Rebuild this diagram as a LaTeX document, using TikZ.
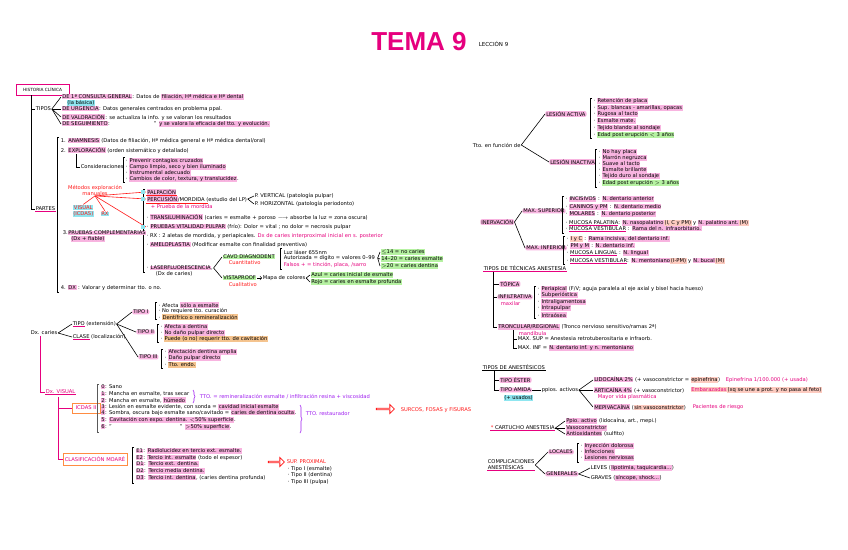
\documentclass[tikz,border=0pt]{standalone}
\usepackage{fontspec}
\setmainfont{DejaVu Sans}
\newfontfamily\titfont{Liberation Sans}
\usepackage{amsmath,amssymb}
\usetikzlibrary{shapes.arrows,decorations.pathreplacing}

\definecolor{mag}{HTML}{E6007E}
\definecolor{hpink}{HTML}{F8B4E0}
\definecolor{hgreen}{HTML}{B6F2A2}
\definecolor{hcyan}{HTML}{8FE6F0}
\definecolor{horange}{HTML}{F5C48F}
\definecolor{hpeach}{HTML}{FDCBC0}
\definecolor{orbox}{HTML}{FF8C42}
\definecolor{purp}{HTML}{A020F0}
\definecolor{rojo}{HTML}{FF1A1A}

\newcommand\mkpink[1]{{\setlength{\fboxsep}{0.5pt}\colorbox{hpink}{#1}}}
\newcommand\mkgreen[1]{{\setlength{\fboxsep}{0.5pt}\colorbox{hgreen}{#1}}}
\newcommand\mkcyan[1]{{\setlength{\fboxsep}{0.5pt}\colorbox{hcyan}{#1}}}
\newcommand\mkorange[1]{{\setlength{\fboxsep}{0.5pt}\colorbox{horange}{#1}}}
\newcommand\mkpeach[1]{{\setlength{\fboxsep}{0.5pt}\colorbox{hpeach}{#1}}}
\newcommand\mkul[1]{\textcolor{mag}{\underline{\textcolor{black}{#1}}}}
\newcommand\bkt[3]{\draw (#1+2,#2) -- (#1,#2) -- (#1,#3) -- (#1+2,#3);}

\begin{document}
\begin{tikzpicture}[x=1pt, y=-1pt, line width=0.6pt,
  every node/.style={font=\fontsize{5.2}{6}\selectfont},
  tx/.style={anchor=west, inner sep=0.5pt},
  hpk/.style={tx, fill=hpink, rounded corners=2pt, inner xsep=1pt},
  hgr/.style={tx, fill=hgreen, rounded corners=2pt, inner xsep=1pt},
  ul/.style={append after command={(\tikzlastnode.south west) edge[draw=#1, line width=0.6pt] (\tikzlastnode.south east)}}, ul/.default=mag,
  bx/.style={draw=orbox, line width=1pt, text=mag, inner sep=1.5pt, fill=white},
  harrow/.style={single arrow, draw=rojo, line width=0.8pt, minimum height=18, minimum width=9, single arrow head extend=2, inner sep=0pt}]
\fill[white] (0,0) rectangle (848,549);
\useasboundingbox (0,0) rectangle (848,549);

\node[text=mag, font=\titfont\bfseries\fontsize{26}{28}\selectfont] (tema) at (419,42) {TEMA 9};
\node[tx, font=\fontsize{5.5}{7}\selectfont] (lecc) at (478,44) {LECCIÓN 9};

% historia clinica
\node[bx, draw=mag, text=black, minimum width=53, minimum height=11, font=\fontsize{4.3}{5}\selectfont] (hist) at (42.5,89.5) {HISTORIA CLÍNICA};
\coordinate (tk) at (31,95);
\node[tx] (tipos) at (35,109) {TIPOS};
\node[tx] (t1) at (61,97) {\mkpink{DE 1ª CONSULTA GENERAL}: Datos de \mkpink{filiación, Hª médica e Hª dental}};
\node[tx] (t1b) at (66,103) {\mkcyan{(la básica)}};
\node[tx] (t2) at (61,109) {\mkpink{DE URGENCIA}: Datos generales centrados en problema ppal.};
\node[tx] (t3) at (61,117) {\mkpink{DE VALORACIÓN}: se actualiza la info. y se valoran los resultados};
\node[tx] (t4) at (61,124) {\mkpink{DE SEGUIMIENTO}:\hspace{44pt}'' \mkpink{y se valora la eficacia del tto. y evolución.}};
\node[tx, ul] (partes) at (35,209) {PARTES};
\draw (tk) |- (partes.west);
\draw (tk |- tipos.west) -- (tipos.west);
\foreach \b in {t1,t2,t3,t4} {\draw (tipos.east) -- (\b.west);}

\bkt{57}{137}{292}
\node[tx] (an) at (60,141) {1. \mkpink{ANAMNESIS} (Datos de filiación, Hª médica general e Hª médica dental/oral)};
\node[tx] (ex) at (60,150) {2. \mkpink{EXPLORACIÓN} (orden sistemático y detallado)};
\node[tx] (cons) at (80,167) {Consideraciones};
\draw (ex.south west) ++(16,0) |- (cons.west);
\bkt{123}{157}{182}
\node[tx] (c1) at (125,161) {· \mkpink{Prevenir contagios cruzados}};
\node[tx] (c2) at (125,167) {· \mkpink{Campo limpio, seco y bien iluminado}};
\node[tx] (c3) at (125,173) {· \mkpink{Instrumental adecuado}};
\node[tx] (c4) at (125,179) {· \mkpink{Cambios de color, textura, y translucidez}.};
\node[text=rojo, align=center, inner sep=0.5pt] (met) at (95,190) {Métodos exploración\\manuales};
\node[tx, text=rojo, align=center] (vis) at (72,211) {\mkcyan{VISUAL}\\\mkcyan{(ICDAS)}};
\node[tx, text=rojo] (rxs) at (100,214) {\mkcyan{RX}};

\bkt{143}{189}{272}
\node[tx, ul=rojo] (pal) at (146,192) {\mkpink{PALPACIÓN}};
\node[tx] (perc) at (146,199) {\mkpink{PERCUSIÓN}/MORDIDA (estudio del LP)};
\draw[rojo] (perc.south west) -- ++(62,0);
\node[tx] (pv) at (254,196) {P. VERTICAL (patología pulpar)};
\node[tx] (ph) at (254,204) {P. HORIZONTAL (patología periodonto)};
\node[tx, text=mag] (mord) at (150,207) {+ Prueba de la mordida};
\node[tx] (trans) at (146,217) {· \mkpink{TRANSILUMINACIÓN} (caries = esmalte + poroso $\longrightarrow$ absorbe la luz = zona oscura)};
\node[tx] (vit) at (146,227) {· \mkpink{PRUEBAS VITALIDAD PULPAR} (frío): Dolor = vital ; no dolor = necrosis pulpar};
\node[tx] (rx) at (146,236) {· RX : 2 aletas de mordida, y periapicales. \textcolor{mag}{Dx de caries interproximal inicial en s. posterior}};
\node[tx] (amel) at (146,245) {· \mkpink{AMELOPLASTIA} (Modificar esmalte con finalidad preventiva)};
\node[tx] (laser) at (146,268) {· \mkpink{LASERFLUORESCENCIA},};
\node[tx] (laser2) at (155,274) {(Dx de caries)};
\foreach \b in {pal,perc,vit} {\draw[rojo] (met.south) -- (\b.west);}
\foreach \b in {vis,rxs} {\draw[rojo] (met.south) -- (\b.north);}
\foreach \b in {pv,ph} {\draw (perc.east) -- (\b.west);}
\foreach \y in {192,199,227} {\fill[hcyan] (141,\y-2) rectangle (145,\y+2);}

\node[tx] (pc) at (62,233) {3.\mkpink{PRUEBAS COMPLEMENTARIAS}};
\node[tx] (pc2) at (70,239) {\mkpink{(Dx + fiable)}};
\node[tx] (dx) at (60,288) {4. \mkpink{DX} : Valorar y determinar tto. o no.};

\node[tx] (cavo) at (222,257) {\mkgreen{CAVO DIAGNODENT}};
\node[tx, text=rojo] (cuanti) at (228,263) {Cuantitativo};
\node[tx] (vista) at (222,278) {\mkgreen{VISTAPROOF}};
\node[tx] (mapa) at (262,278) {Mapa de colores};
\node[tx, text=rojo] (cuali) at (228,285) {Cualitativo};
\foreach \b in {cavo,vista} {\draw (laser.east) -- (\b.west);}
\draw[->] (vista.east) -- (mapa.west);
\bkt{280}{248}{269}
\node[tx] (dg1) at (283,252) {Luz láser 655nm};
\node[tx] (dg2) at (283,258) {Autorizada = dígito = valores 0--99};
\node[tx, text=mag] (dg3) at (283,265) {Falsos + = tinción, placa, /sarro};
\node[tx] (g1) at (380,252) {\mkgreen{$\leq$14 = no caries}};
\node[tx] (g2) at (380,259) {\mkgreen{14--20 = caries esmalte}};
\node[tx] (g3) at (380,266) {\mkgreen{$>$20 = caries dentina}};
\foreach \b in {g1,g2,g3} {\draw (dg2.east) ++(2,0) -- (\b.west);}
\node[tx] (az) at (310,275) {\mkgreen{Azul = caries inicial de esmalte}};
\node[tx] (ro) at (310,282) {\mkgreen{Rojo = caries en esmalte profunda}};
\foreach \b in {az,ro} {\draw (mapa.east) -- (\b.west);}

% dx caries
\node[tx] (dxc) at (30,333) {Dx. caries};
\node[tx] (tipo) at (72,324) {\mkul{TIPO} (extensión)};
\node[tx] (clase) at (72,337) {\mkul{CLASE} (localización)};
\foreach \b in {tipo,clase} {\draw (dxc.east) -- (\b.west);}
\node[hpk] (ti1) at (132,312) {TIPO I};
\node[hpk] (ti2) at (136,332) {TIPO II};
\node[hpk] (ti3) at (138,357) {TIPO III};
\foreach \b in {ti1,ti2,ti3} {\draw (tipo.east) -- (\b.west);}
\bkt{155}{302}{319}
\node[tx] (a1) at (158,305) {· Afecta \mkpink{sólo a esmalte}};
\node[tx] (a2) at (158,311) {· No requiere tto. curación};
\node[tx] (a3) at (158,317) {· \mkorange{Dentífrico o remineralización}};
\bkt{157}{324}{342}
\node[tx] (b1) at (160,327) {· \mkpink{Afecta a dentina}};
\node[tx] (b2) at (160,333) {· \mkpink{No daño pulpar directo}};
\node[tx] (b3) at (160,339) {· \mkorange{Puede (o no) requerir tto. de cavitación}};
\bkt{161}{349}{368}
\node[tx] (d1) at (164,352) {· \mkpink{Afectación dentina amplia}};
\node[tx] (d2) at (164,358) {· \mkpink{Daño pulpar directo}};
\node[tx] (d3) at (164,365) {· \mkorange{Tto. endo.}};

\node[tx, text=mag, ul] (dvis) at (45,392) {Dx. VISUAL};
\draw[mag] (dxc.south west) ++(10,0) |- (dvis.west);
\node[bx, minimum width=28, minimum height=10] (icdas) at (86,408) {ICDAS II};
\node[bx, minimum width=64, minimum height=12] (cls) at (95,459) {CLASIFICACIÓN MOARÉ};
\coordinate (tv) at (58,397);
\draw[mag] (tv) |- (cls.west);
\draw[mag] (tv |- icdas.west) -- (icdas.west);
\draw[line width=1pt, gray!70!black] (99,384) -- (97,384) -- (97,432) -- (99,432);
\node[tx] (i0) at (100,387) {\mkpink{0}: Sano};
\node[tx] (i1) at (100,394) {\mkpink{1}: Mancha en esmalte, tras secar};
\node[tx] (i2) at (100,400) {\mkpink{2}: Mancha en esmalte, \mkpink{húmedo}};
\node[tx] (i3) at (100,407) {\mkpink{3}: Lesión en esmalte evidente, con sonda = \mkpink{cavidad inicial esmalte}};
\node[tx] (i4) at (100,413) {\mkpink{4}: Sombra, oscura bajo esmalte sano/cavitado = \mkpink{caries de dentina oculta}.};
\node[tx] (i5) at (100,420) {\mkpink{5}: \mkpink{Cavitación con expo. dentina. $<$50\% superficie}.};
\node[tx] (i6) at (100,427) {\mkpink{6}: ''\hspace{68pt}'' \mkpink{$>$50\% superficie}.};
\draw[purp, decorate, decoration={brace, amplitude=2pt}] (193,390) -- (193,403);
\node[tx, text=purp] (tr1) at (199,397) {TTO. = remineralización esmalte / infiltración resina + viscosidad};
\draw[purp, decorate, decoration={brace, amplitude=2pt}] (300,405) -- (300,433);
\node[tx, text=purp] (tr2) at (305,414) {TTO. restaurador};
\node[harrow] (ar1) at (385,409) {};
\node[tx, text=rojo] (sfs) at (400,410) {SURCOS, FOSAS y FISURAS};

\bkt{132}{447}{483}
\node[tx] (e1) at (135,451) {\mkpink{E1}: \mkpink{Radiolucidez en tercio ext. esmalte.}};
\node[tx] (e2) at (135,458) {\mkpink{E2}: \mkpink{Tercio int. esmalte} (todo el espesor)};
\node[tx] (e3) at (135,464) {\mkpink{D1}: \mkpink{Tercio ext. dentina.}};
\node[tx] (e4) at (135,471) {\mkpink{D2}: \mkpink{Tercio media dentina.}};
\node[tx] (e5) at (135,478) {\mkpink{D3}: \mkpink{Tercio int. dentina}, (caries dentina profunda)};
\node[harrow, minimum height=16] (ar2) at (276,462) {};
\node[tx, text=rojo] (sup) at (286,462) {SUP. PROXIMAL};
\node[tx] (p1) at (287,469) {· Tipo I (esmalte)};
\node[tx] (p2) at (287,475) {· Tipo II (dentina)};
\node[tx] (p3) at (287,482) {· Tipo III (pulpa)};

% tto en funcion
\node[tx] (tfun) at (472,145) {Tto. en función de};
\node[hpk] (la) at (545,114) {LESIÓN ACTIVA};
\node[hpk] (li) at (549,162) {LESIÓN INACTIVA};
\foreach \b in {la,li} {\draw (tfun.east) -- (\b.west);}
\bkt{590}{98}{138}
\node[tx] (la1) at (593,101) {· \mkpink{Retención de placa}};
\node[tx] (la2) at (593,108) {· \mkpink{Sup. blancas - amarillas, opacas}};
\node[tx] (la3) at (593,114) {· \mkpink{Rugosa al tacto}};
\node[tx] (la4) at (593,121) {· \mkpink{Esmalte mate.}};
\node[tx] (la5) at (593,128) {· \mkpink{Tejido blando al sondaje}};
\node[tx] (la6) at (593,135) {· \mkgreen{Edad post erupción $<$ 3 años}};
\bkt{595}{149}{187}
\node[tx] (li1) at (598,152) {· \mkpink{No hay placa}};
\node[tx] (li2) at (598,158) {· \mkpink{Marrón negruzca}};
\node[tx] (li3) at (598,164) {· \mkpink{Suave al tacto}};
\node[tx] (li4) at (598,170) {· \mkpink{Esmalte brillante}};
\node[tx] (li5) at (598,176) {· \mkpink{Tejido duro al sondaje}};
\node[tx] (li6) at (598,183) {· \mkgreen{Edad post erupción $>$ 3 años}};

\node[hpk] (inerv) at (480,222) {INERVACIÓN};
\node[hpk] (ms) at (522,211) {MAX. SUPERIOR};
\node[hpk] (mi) at (525,248) {MAX. INFERIOR};
\foreach \b in {ms,mi} {\draw (inerv.east) -- (\b.west);}
\bkt{562}{196}{233}
\node[tx] (ms1) at (565,199) {· \mkpink{INCISIVOS} : \mkpink{N. dentario anterior}};
\node[tx] (ms2) at (565,207) {· \mkpink{CANINOS y PM} : \mkpink{N. dentario medio}};
\node[tx] (ms3) at (565,214) {· \mkpink{MOLARES} : \mkpink{N. dentario posterior}};
\node[tx] (ms4) at (565,223) {· \mkul{MUCOSA PALATINA}: \mkpink{N. nasopalatino}\mkpeach{(I, C y PM)} y \mkpink{N. palatino ant.}\mkpeach{(M)}};
\node[tx] (ms5) at (565,229) {· \mkul{MUCOSA VESTIBULAR} : \mkpink{Rama del n. infraorbitario.}};
\bkt{563}{236}{264}
\node[tx] (mi1) at (566,239) {· \mkpeach{I y C} : \mkpink{Rama incisiva, del dentario inf.}};
\node[tx] (mi2) at (566,246) {· \mkpink{PM y M} : \mkpink{N. dentario inf.}};
\node[tx] (mi3) at (566,253) {· \mkul{MUCOSA LINGUAL} : \mkpink{N. lingual}};
\node[tx] (mi4) at (566,261) {· \mkul{MUCOSA VESTIBULAR}: \mkpink{N. mentoniano}\mkpeach{(I-PM)} y \mkpink{N. bucal}\mkpeach{(M)}};

\node[tx, ul] (tecn) at (483,268) {TIPOS DE TÉCNICAS ANESTESIA};
\coordinate (tq) at (493,272);
\node[hpk] (top) at (499,284) {TÓPICA};
\node[hpk] (inf) at (497,297) {INFILTRATIVA};
\node[tx, text=mag] (maxl) at (500,304) {maxilar};
\node[tx] (tron) at (497,327) {\mkpink{TRONCULAR/REGIONAL} (Tronco nervioso sensitivo/ramas 2ª)};
\node[tx, text=mag] (mand) at (518,333) {mandíbula};
\draw (tq) |- (tron.west);
\foreach \b in {top,inf} {\draw (tq |- \b.west) -- (\b.west);}
\bkt{534}{286}{318}
\node[tx] (if1) at (537,289) {· \mkpink{Periapical} (F/V; aguja paralela al eje axial y bisel hacia hueso)};
\node[tx] (if2) at (537,295) {· \mkpink{Subperióstica}};
\node[tx] (if3) at (537,302) {· \mkpink{Intraligamentosa}};
\node[tx] (if4) at (537,308) {· \mkpink{Intrapulpar}};
\node[tx] (if5) at (537,315) {· \mkpink{Intraósea}};
\coordinate (tm) at (513,330);
\node[tx] (msup) at (517,339) {MAX. SUP = Anestesia retrotuberositaria e infraorb.};
\node[tx] (minf) at (517,348) {MAX. INF = \mkpink{N. dentario inf. y n. mentoniano}};
\draw (tm) |- (minf.west);
\draw (tm |- msup.west) -- (msup.west);

\node[tx, ul=black] (anes) at (482,367) {TIPOS DE ANESTÉSICOS};
\coordinate (ta) at (494,371);
\node[hpk] (est) at (499,380) {TIPO ÉSTER};
\node[hpk] (ami) at (499,390) {TIPO AMIDA};
\node[tx] (amu) at (503,398) {\mkcyan{(+ usados)}};
\draw (ta) |- (ami.west);
\draw (ta |- est.west) -- (est.west);
\node[tx] (ppa) at (541,390) {ppios. activos};
\draw (ami.east) -- (ppa.west);
\node[tx] (lid) at (593,380) {\mkpink{LIDOCAÍNA 2\%} (+ vasoconstrictor = \mkpeach{epinefrina})};
\node[tx, text=mag] (lidn) at (725,380) {Epinefrina 1/100.000 (+ usada)};
\node[tx] (art) at (593,390) {\mkpink{ARTICAÍNA 4\%} (+ vasoconstrictor)};
\node[tx, text=mag] (artn) at (690,390) {\mkpeach{Embarazadas}\mkpeach{\textcolor{black}{(xq se une a prot. y no pasa al feto)}}};
\node[tx, text=mag] (artv) at (597,397) {Mayor vida plasmática};
\node[tx] (mep) at (593,407) {\mkpink{MEPIVACAÍNA} (\mkpeach{sin vasoconstrictor})};
\node[tx, text=mag] (mepn) at (692,407) {Pacientes de riesgo};
\foreach \b in {lid,art,mep} {\draw (ppa.east) -- (\b.west);}

\node[tx, ul] (cart) at (490,428) {\textcolor{rojo}{*} CARTUCHO ANESTESIA};
\node[tx] (ca1) at (565,421) {\mkpink{Ppio. activo} (lidocaína, art., mepi.)};
\node[tx] (ca2) at (565,428) {\mkpink{Vasoconstrictor}};
\node[tx] (ca3) at (565,434) {\mkpink{Antioxidantes} (sulfito)};
\foreach \b in {ca1,ca2,ca3} {\draw (cart.east) -- (\b.west);}

\node[tx, align=left, ul] (comp) at (487,465) {COMPLICACIONES\\ANESTÉSICAS};
\node[hpk] (loc) at (548,452) {LOCALES};
\node[hpk] (gen) at (545,474) {GENERALES};
\foreach \b in {loc,gen} {\draw (comp.east) -- (\b.west);}
\bkt{577}{443}{462}
\node[tx] (lo1) at (580,446) {· \mkpink{Inyección dolorosa}};
\node[tx] (lo2) at (580,452) {· \mkpink{Infecciones}};
\node[tx] (lo3) at (580,458) {· \mkpink{Lesiones nerviosas}};
\node[tx] (lev) at (590,468) {LEVES (\mkpink{lipotimia, taquicardia...})};
\node[tx] (gra) at (590,478) {GRAVES (\mkpink{síncope, shock...})};
\foreach \b in {lev,gra} {\draw (gen.east) -- (\b.west);}
\end{tikzpicture}
\end{document}
